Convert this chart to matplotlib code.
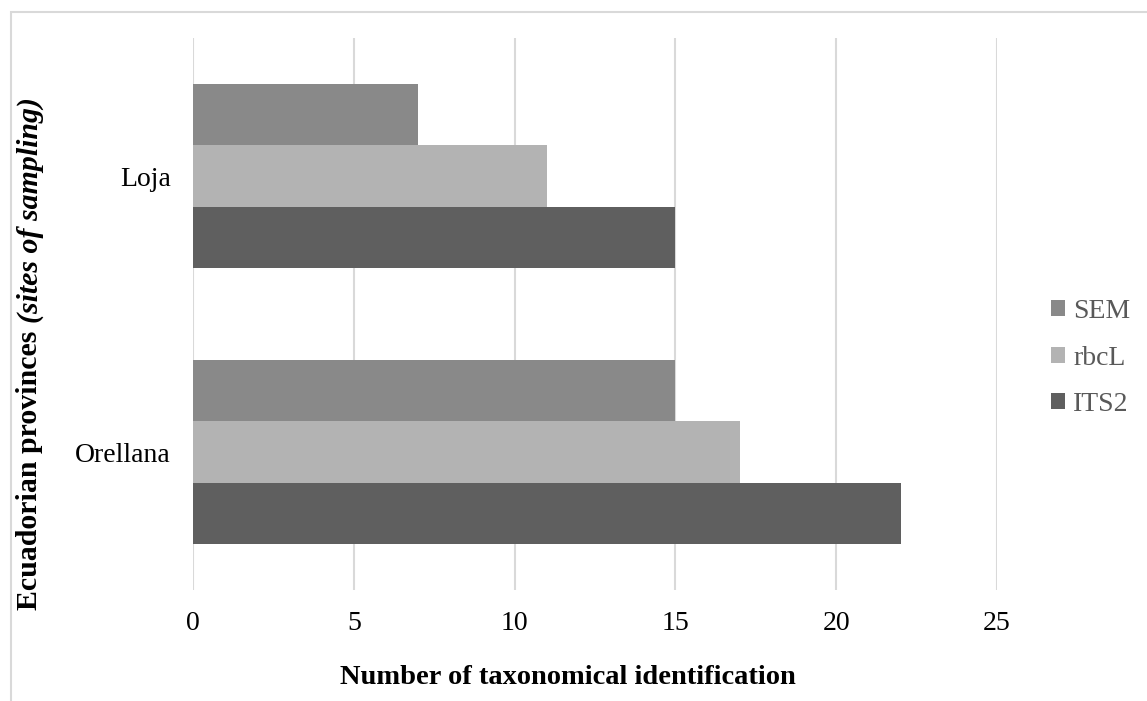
import matplotlib
matplotlib.use("Agg")
import matplotlib.pyplot as plt
from matplotlib.patches import Patch, Rectangle
import numpy as np

# Data
provinces = ["Orellana", "Loja"]
series_names = ["SEM", "rbcL", "ITS2"]
sem = [15, 7]
rbcl = [17, 11]
its2 = [22, 15]
x_ticks = [0, 5, 10, 15, 20, 25]

colors = {"SEM": "#898989", "rbcL": "#b3b3b3", "ITS2": "#5f5f5f"}

plt.rcParams["font.family"] = ["Liberation Serif", "DejaVu Serif"]

W, H = 1147, 701
fig = plt.figure(figsize=(W / 100, H / 100), dpi=100)
ax = fig.add_axes([193 / W, 1 - 590 / H, (997 - 193) / W, (590 - 38) / H])

bar_h = 2 / 9
y = np.arange(len(provinces))
values = {"SEM": sem, "rbcL": rbcl, "ITS2": its2}
offsets = {"SEM": bar_h, "rbcL": 0.0, "ITS2": -bar_h}
for name in series_names:
    ax.barh(y + offsets[name], values[name], height=bar_h, color=colors[name],
            edgecolor="none", zorder=3, label=name)

ax.set_xlim(0, 25)
ax.set_ylim(-0.5, 1.5)
ax.set_xticks(x_ticks)
ax.set_xticklabels([str(t) for t in x_ticks])
ax.set_yticks(y)
ax.set_yticklabels(provinces)
ax.tick_params(axis="both", length=0, labelsize=20, colors="#000000")
ax.tick_params(axis="x", pad=15)
ax.tick_params(axis="y", pad=16)
ax.xaxis.grid(True, color="#d9d9d9", linewidth=1.5, zorder=0)
ax.yaxis.grid(False)
for s in ax.spines.values():
    s.set_visible(False)

ax.set_xlabel("Number of taxonomical identification", fontsize=20.5,
              fontweight="bold")
ax.xaxis.set_label_coords((568 - 193) / (997 - 193), -(678 - 590) / (590 - 38))
ax.xaxis.label.set_va("center")

# Legend
handles = [Patch(facecolor=colors[n], edgecolor="none", label=n) for n in series_names]
leg = fig.legend(handles=handles, loc="center left",
                 bbox_to_anchor=(1040 / W, 1 - 358 / H), frameon=False,
                 fontsize=20, handlelength=0.5, handleheight=0.5,
                 handletextpad=0.3, labelspacing=0.78, borderaxespad=0)
for t in leg.get_texts():
    t.set_color("#595959")

# Y-axis title: bold part followed by bold-italic part
fig.canvas.draw()
renderer = fig.canvas.get_renderer()
x_lab = 30 / W
t1 = fig.text(x_lab, 1 - 610 / H, "Ecuadorian provinces ", rotation=90,
              fontsize=21.5, fontweight="bold", ha="center", va="bottom")
bb = t1.get_window_extent(renderer)
t2 = fig.text(x_lab, bb.y1 / H, "(sites of sampling)", rotation=90,
              fontsize=21.5, fontweight="bold", fontstyle="italic",
              ha="center", va="bottom")

# Outer frame
fig.patches.append(Rectangle((11 / W, -0.01), 1.1, 1 - 12 / H + 0.01,
                             transform=fig.transFigure, fill=False,
                             edgecolor="#d9d9d9", linewidth=1.5))

fig.savefig("out.png", dpi=100)
